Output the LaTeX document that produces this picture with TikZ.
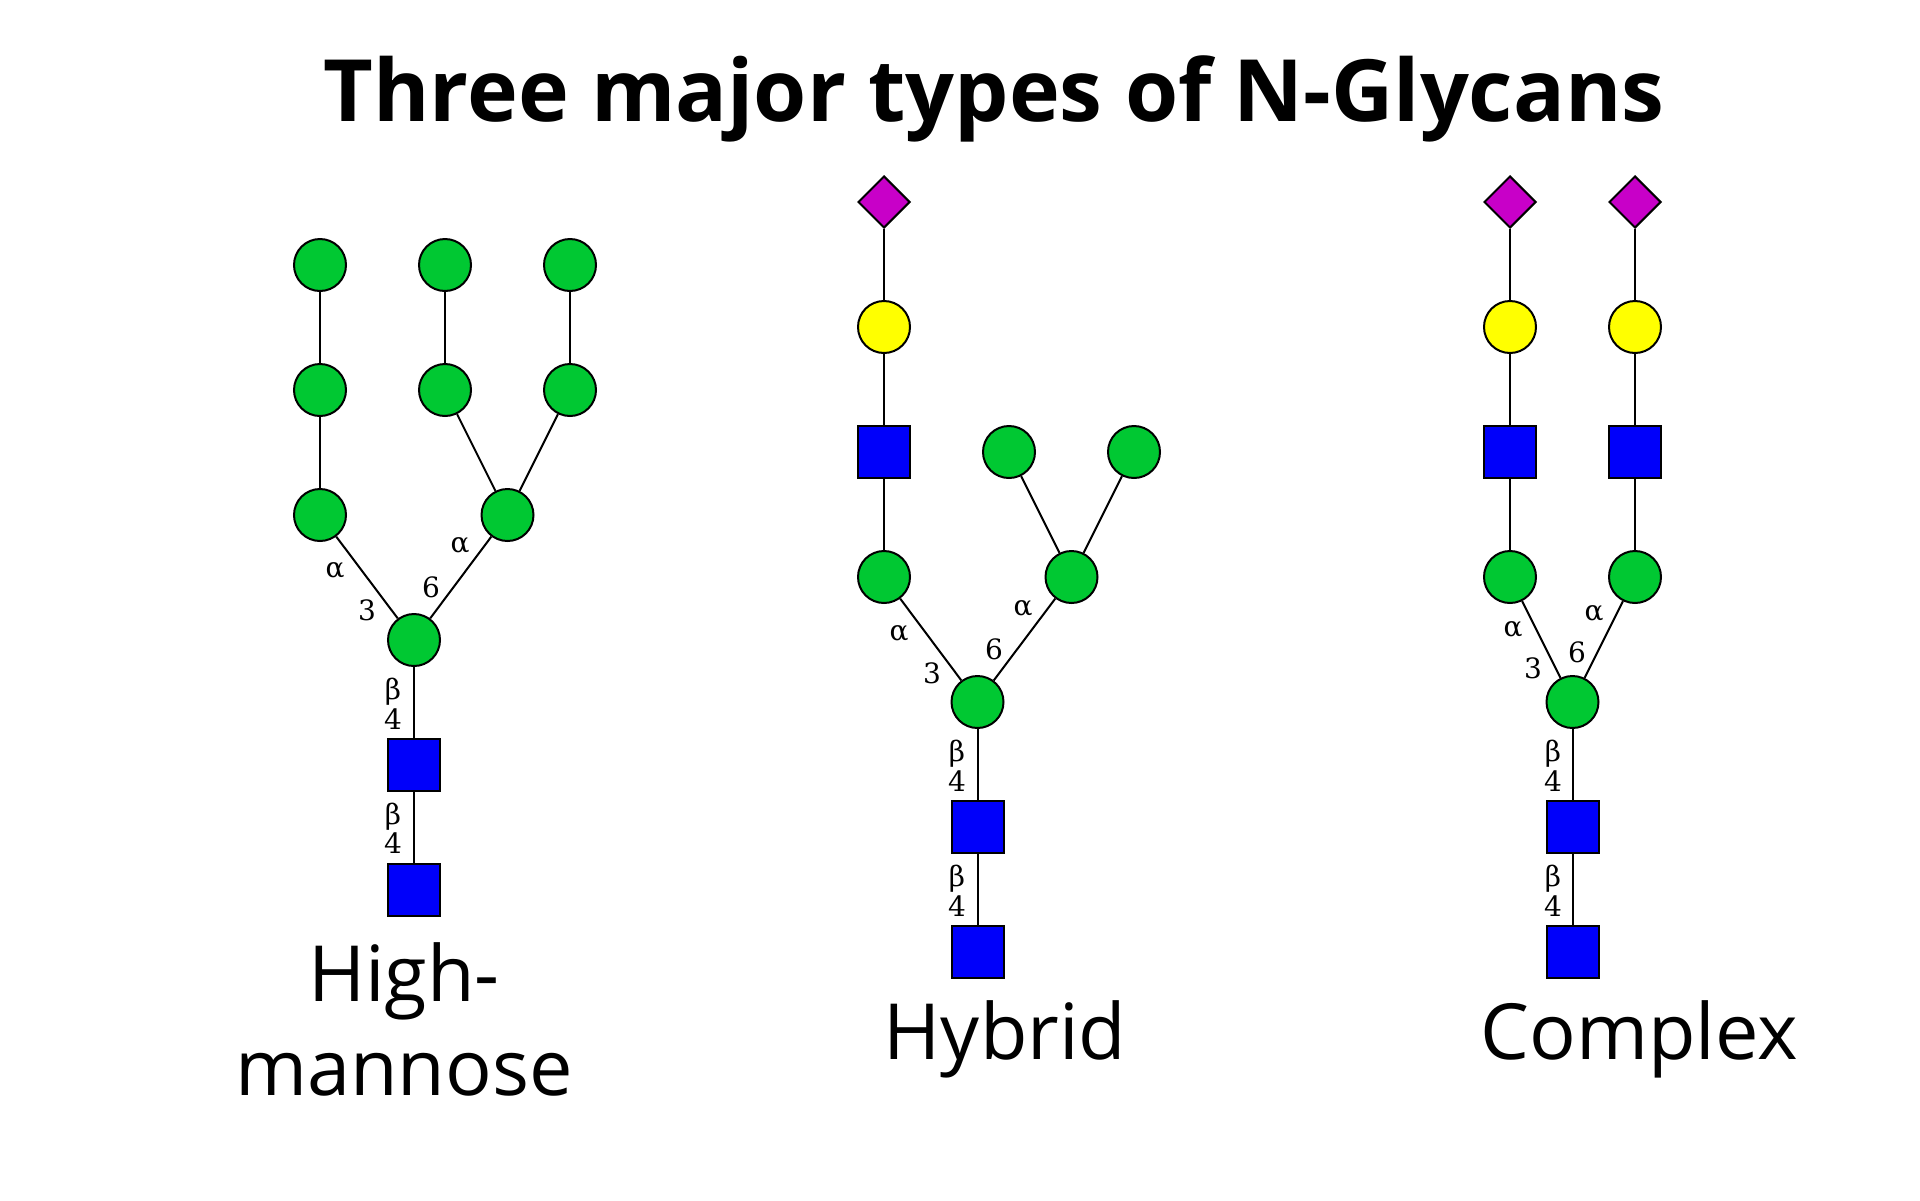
\documentclass[tikz,border=0pt]{standalone}
\usepackage{fontspec}
\setmainfont{Open Sans}
\newfontfamily\linkfont{DejaVu Serif}
\usetikzlibrary{shapes.geometric}

\definecolor{mangreen}{RGB}{0,200,50}
\definecolor{galyellow}{RGB}{255,255,0}
\definecolor{nagblue}{RGB}{0,0,250}
\definecolor{siapurple}{RGB}{200,0,200}

\begin{document}
\begin{tikzpicture}[
    x=1pt, y=-1pt,
    man/.style={circle, draw=black, line width=2pt, fill=mangreen,
        minimum size=52pt, inner sep=0pt},
    gal/.style={man, fill=galyellow},
    nag/.style={rectangle, draw=black, line width=2pt, fill=nagblue,
        minimum size=52pt, inner sep=0pt},
    sia/.style={diamond, draw=black, line width=2pt, fill=siapurple,
        minimum size=52pt, inner sep=0pt},
    edge/.style={line width=2pt, -},
    link/.style={inner sep=0pt, font=\linkfont\fontsize{28}{30}\selectfont},
    typename/.style={font=\fontsize{77.5}{94}\selectfont, align=center}
]
    \useasboundingbox (0,0) rectangle (1920,1200);
    \node[font=\bfseries\fontsize{86}{100}\selectfont, anchor=base]
        (title) at (994,121) {Three major types of N-Glycans};

    % high-mannose
    \node[man] (hma1) at (320,265) {};
    \node[man] (hmb1) at (445,265) {};
    \node[man] (hmc1) at (570,265) {};
    \node[man] (hma2) at (320,390) {};
    \node[man] (hmb2) at (445,390) {};
    \node[man] (hmc2) at (570,390) {};
    \node[man] (hma3) at (320,515) {};
    \node[man] (hmb3) at (507.5,515) {};
    \node[man] (hmcore) at (414,640) {};
    \node[nag] (hmgn1) at (414,765) {};
    \node[nag] (hmgn2) at (414,890) {};
    \draw[edge] (hma1) -- (hma2);
    \draw[edge] (hmb1) -- (hmb2);
    \draw[edge] (hmc1) -- (hmc2);
    \draw[edge] (hma2) -- (hma3);
    \draw[edge] (hmb2) -- (hmb3);
    \draw[edge] (hmc2) -- (hmb3);
    \draw[edge] (hma3) -- (hmcore);
    \draw[edge] (hmb3) -- (hmcore);
    \draw[edge] (hmcore) -- (hmgn1);
    \draw[edge] (hmgn1) -- (hmgn2);
    \node[link] (hmla) at (335,570) {α};
    \node[link] (hmlt) at (367,610) {3};
    \node[link] (hmra) at (460,545) {α};
    \node[link] (hmrs) at (431,587) {6};
    \node[link] (hmb1b) at (393,692) {β};
    \node[link] (hmb1f) at (393,719) {4};
    \node[link] (hmb2b) at (393,817) {β};
    \node[link] (hmb2f) at (393,843) {4};
    \node[typename, anchor=base] (hmname) at (404,1095) {High-\\mannose};

    % hybrid
    \node[sia] (hysia) at (884,202) {};
    \node[gal] (hygal) at (884,327) {};
    \node[nag] (hygn3) at (884,452) {};
    \node[man] (hya3) at (884,577) {};
    \node[man] (hyb1) at (1009,452) {};
    \node[man] (hyc1) at (1134,452) {};
    \node[man] (hyb3) at (1071.5,577) {};
    \node[man] (hycore) at (977.5,702) {};
    \node[nag] (hygn1) at (977.5,827) {};
    \node[nag] (hygn2) at (977.5,952) {};
    \draw[edge] (hysia) -- (hygal);
    \draw[edge] (hygal) -- (hygn3);
    \draw[edge] (hygn3) -- (hya3);
    \draw[edge] (hyb1) -- (hyb3);
    \draw[edge] (hyc1) -- (hyb3);
    \draw[edge] (hya3) -- (hycore);
    \draw[edge] (hyb3) -- (hycore);
    \draw[edge] (hycore) -- (hygn1);
    \draw[edge] (hygn1) -- (hygn2);
    \node[link] (hyla) at (899,633) {α};
    \node[link] (hylt) at (932,673) {3};
    \node[link] (hyra) at (1023,608) {α};
    \node[link] (hyrs) at (994,649) {6};
    \node[link] (hyb1b) at (957,754) {β};
    \node[link] (hyb1f) at (957,781) {4};
    \node[link] (hyb2b) at (957,879) {β};
    \node[link] (hyb2f) at (957,906) {4};
    \node[typename, anchor=base] (hyname) at (1005,1059) {Hybrid};

    % complex
    \node[sia] (cxsia1) at (1510,202) {};
    \node[sia] (cxsia2) at (1635,202) {};
    \node[gal] (cxgal1) at (1510,327) {};
    \node[gal] (cxgal2) at (1635,327) {};
    \node[nag] (cxgn3) at (1510,452) {};
    \node[nag] (cxgn4) at (1635,452) {};
    \node[man] (cxa3) at (1510,577) {};
    \node[man] (cxb3) at (1635,577) {};
    \node[man] (cxcore) at (1572.5,702) {};
    \node[nag] (cxgn1) at (1572.5,827) {};
    \node[nag] (cxgn2) at (1572.5,952) {};
    \draw[edge] (cxsia1) -- (cxgal1);
    \draw[edge] (cxsia2) -- (cxgal2);
    \draw[edge] (cxgal1) -- (cxgn3);
    \draw[edge] (cxgal2) -- (cxgn4);
    \draw[edge] (cxgn3) -- (cxa3);
    \draw[edge] (cxgn4) -- (cxb3);
    \draw[edge] (cxa3) -- (cxcore);
    \draw[edge] (cxb3) -- (cxcore);
    \draw[edge] (cxcore) -- (cxgn1);
    \draw[edge] (cxgn1) -- (cxgn2);
    \node[link] (cxla) at (1513,629) {α};
    \node[link] (cxlt) at (1533,668) {3};
    \node[link] (cxra) at (1594,613) {α};
    \node[link] (cxrs) at (1577,652) {6};
    \node[link] (cxb1b) at (1553,754) {β};
    \node[link] (cxb1f) at (1553,781) {4};
    \node[link] (cxb2b) at (1553,879) {β};
    \node[link] (cxb2f) at (1553,906) {4};
    \node[typename, anchor=base] (cxname) at (1639,1059) {Complex};
\end{tikzpicture}
\end{document}
